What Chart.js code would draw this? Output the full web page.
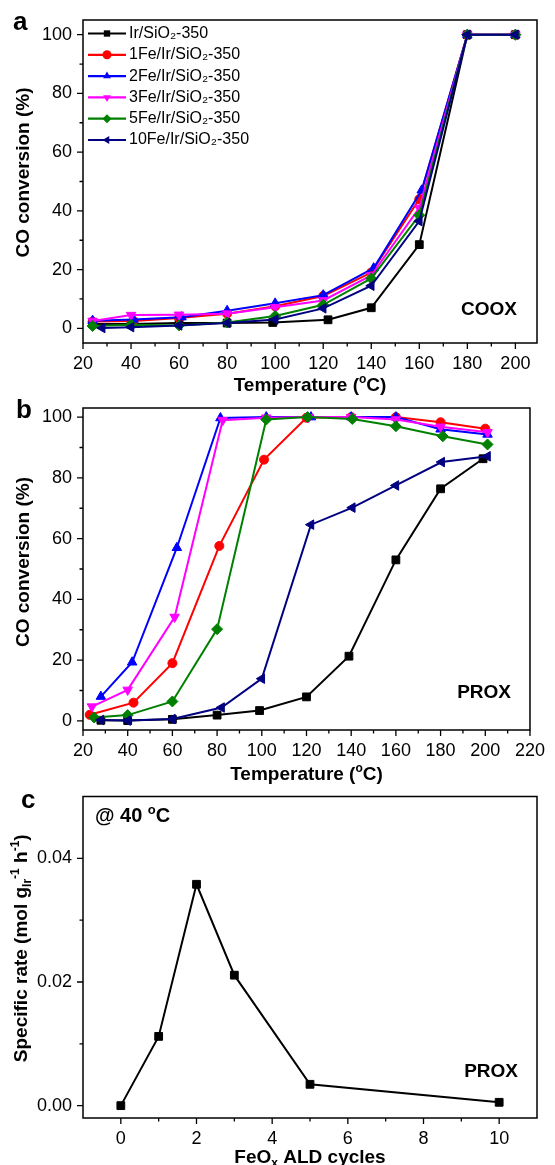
<!DOCTYPE html>
<html>
<head>
<meta charset="utf-8">
<script src="https://cdn.jsdelivr.net/npm/chart.js@4.4.1/dist/chart.umd.min.js"></script>
<style>
  body { margin: 0; background: #fff; }
  #wrap { position: relative; width: 555px; height: 1165px; overflow: hidden; }
  #wrap canvas { position: absolute; left: 0; }
</style>
</head>
<body>
<div id="wrap">
  <canvas id="chartA" width="555" height="395" style="top:0px"></canvas>
  <canvas id="chartB" width="555" height="395" style="top:395px"></canvas>
  <canvas id="chartC" width="555" height="375" style="top:790px"></canvas>
</div>
<script>
// series
var seriesNames = ['Ir/SiO\u2082-350', '1Fe/Ir/SiO\u2082-350', '2Fe/Ir/SiO\u2082-350',
                   '3Fe/Ir/SiO\u2082-350', '5Fe/Ir/SiO\u2082-350', '10Fe/Ir/SiO\u2082-350'];
var seriesColors = ['#000000', '#ff0000', '#0000ff', '#ff00ff', '#008000', '#000080'];
var markerStyles = ['rect', 'circle', 'triangle', 'triangle', 'rectRot', 'triangle'];
var markerRot = [0, 0, 0, 180, 0, -90];

// panel a - COOX, temperature (C) and CO conversion (%)
var cooxTemps = [
  [24, 40, 60, 80, 99, 122, 140, 160, 180, 200],
  [24, 41, 60, 80, 100, 120, 140, 160, 180, 200],
  [24, 41, 61, 80, 100, 120, 141, 161, 180, 200],
  [24, 40, 60, 80, 100, 120, 140, 160, 180, 200],
  [24, 40, 60, 80, 100, 120, 140, 160, 180, 200],
  [28, 40, 60, 80, 100, 120, 140, 160, 180, 200]
];
var cooxConv = [
  [1.5, 1.5, 1.8, 1.8, 2.0, 2.9, 7.0, 28.5, 100, 100],
  [2.3, 2.5, 3.5, 5.0, 7.5, 11.0, 19.0, 44.0, 100, 100],
  [2.6, 3.0, 3.8, 6.0, 8.5, 11.3, 20.5, 47.0, 100, 100],
  [2.5, 4.5, 4.6, 5.0, 7.2, 9.5, 18.0, 41.0, 100, 100],
  [0.8, 1.2, 1.0, 2.0, 4.2, 8.0, 17.0, 38.5, 100, 100],
  [0.1, 0.4, 1.0, 1.8, 3.0, 6.8, 14.5, 36.5, 100, 100]
];

// panel b - PROX
var proxTemps = [
  [28, 40, 60, 80, 99, 120, 139, 160, 180, 199],
  [23, 42.6, 60, 81, 101, 120, 140, 160, 180, 200],
  [28, 42, 62, 81.5, 102, 122, 140, 160, 180, 201],
  [24, 40, 61, 82.5, 102, 121, 140, 160, 180, 201],
  [25, 40, 60, 80, 102, 120.5, 140.5, 160, 181, 201],
  [28, 40, 60, 82, 100, 122, 140.5, 160, 180.5, 201]
];
var proxConv = [
  [0.2, 0.1, 0.5, 1.9, 3.4, 7.9, 21.3, 53.0, 76.4, 86.3],
  [2.0, 6.0, 19.0, 57.6, 86.0, 99.8, 100, 100, 98.3, 96.2],
  [8.0, 19.3, 57.0, 99.7, 100, 100, 100, 100, 96.0, 94.3],
  [4.7, 10.2, 34.2, 99.0, 99.8, 100, 100, 99.2, 96.8, 95.0],
  [1.1, 1.9, 6.4, 30.2, 99.2, 100, 99.4, 97.0, 93.7, 91.0],
  [0.3, 0.1, 0.6, 4.4, 13.9, 64.6, 70.2, 77.5, 85.2, 87.1]
];

// panel c - specific rate at 40 C vs FeOx ALD cycles
var aldCycles = [0, 1, 2, 3, 5, 10];
var specRate = [0.0, 0.0112, 0.0358, 0.0211, 0.00345, 0.00054];

// tick labels
var tempTicksA = [20, 40, 60, 80, 100, 120, 140, 160, 180, 200];
var tempTicksB = [20, 40, 60, 80, 100, 120, 140, 160, 180, 200, 220];
var convTicks = [0, 20, 40, 60, 80, 100];
var cycleTicks = [0, 2, 4, 6, 8, 10];
var rateTicks = [0, 0.02, 0.04];

var FONT = "'Liberation Sans', Arial, Helvetica, sans-serif";
Chart.defaults.font.family = FONT;
Chart.defaults.color = '#000';

function drawRich(ctx, segs, x, y, size, opts) {
  opts = opts || {};
  var weight = opts.bold === false ? '' : 'bold ';
  function fontFor(kind) {
    var s = kind ? Math.round(size * 0.65) : size;
    return weight + s + 'px ' + FONT;
  }
  ctx.save();
  ctx.translate(x, y);
  if (opts.rotate) ctx.rotate(-Math.PI / 2);
  var total = 0;
  segs.forEach(function (s) { ctx.font = fontFor(s[1]); total += ctx.measureText(s[0]).width; });
  var cx = opts.align === 'left' ? 0 : opts.align === 'right' ? -total : -total / 2;
  ctx.fillStyle = '#000';
  ctx.textAlign = 'left';
  ctx.textBaseline = 'alphabetic';
  segs.forEach(function (s) {
    ctx.font = fontFor(s[1]);
    var dy = s[1] === 'sup' ? -size * 0.4 : s[1] === 'sub' ? size * 0.22 : 0;
    ctx.fillText(s[0], cx, dy);
    cx += ctx.measureText(s[0]).width;
  });
  ctx.restore();
}

function drawMarker(ctx, style, rot, r, x, y) {
  ctx.save();
  ctx.translate(x, y);
  ctx.rotate(rot * Math.PI / 180);
  ctx.beginPath();
  if (style === 'rect') {
    var s = r * Math.SQRT1_2;
    ctx.rect(-s, -s, 2 * s, 2 * s);
  } else if (style === 'circle') {
    ctx.arc(0, 0, r, 0, Math.PI * 2);
  } else if (style === 'rectRot') {
    ctx.moveTo(0, -r); ctx.lineTo(r, 0); ctx.lineTo(0, r); ctx.lineTo(-r, 0); ctx.closePath();
  } else {
    ctx.moveTo(0, -r); ctx.lineTo(r * 0.866, r * 0.5); ctx.lineTo(-r * 0.866, r * 0.5); ctx.closePath();
  }
  ctx.fill();
  ctx.restore();
}

// frame, ticks, titles and labels drawn on top of each panel
var decorPlugin = {
  id: 'decor',
  afterDraw: function (chart, args, o) {
    var ctx = chart.ctx, a = chart.chartArea;
    var xs = chart.scales.x, ys = chart.scales.y;
    ctx.save();
    ctx.strokeStyle = '#000';
    ctx.lineWidth = 1.5;
    ctx.strokeRect(a.left, a.top, a.right - a.left, a.bottom - a.top);
    ctx.lineWidth = 1.3;
    ctx.beginPath();
    function ticks(vals, scale, horiz) {
      vals.forEach(function (v, i) {
        var list = [[v, 6]];
        if (i < vals.length - 1) list.push([(v + vals[i + 1]) / 2, 3.5]);
        list.forEach(function (t) {
          var p = scale.getPixelForValue(t[0]);
          if (horiz) { ctx.moveTo(p, a.bottom); ctx.lineTo(p, a.bottom + t[1]); }
          else { ctx.moveTo(a.left, p); ctx.lineTo(a.left - t[1], p); }
        });
      });
    }
    ticks(o.xTicks, xs, true);
    ticks(o.yTicks, ys, false);
    ctx.stroke();
    ctx.restore();

    drawRich(ctx, o.xTitle, (a.left + a.right) / 2, o.xTitleY, 19);
    drawRich(ctx, o.yTitle, o.yTitleX, (a.top + a.bottom) / 2 + (o.yTitleDy || 0), 19, { rotate: true });
    (o.texts || []).forEach(function (t) {
      drawRich(ctx, t.segs, t.x, t.y, t.size, { align: t.align });
    });

    if (o.legend) {
      var lg = o.legend;
      chart.data.datasets.forEach(function (ds, i) {
        var yy = lg.y + i * lg.dy;
        ctx.save();
        ctx.strokeStyle = ds.borderColor;
        ctx.fillStyle = ds.borderColor;
        ctx.lineWidth = 2.2;
        ctx.beginPath();
        ctx.moveTo(lg.x, yy); ctx.lineTo(lg.x + 38, yy);
        ctx.stroke();
        drawMarker(ctx, markerStyles[i], markerRot[i], 4.5, lg.x + 19, yy);
        ctx.font = '16px ' + FONT;
        ctx.fillStyle = '#000';
        ctx.textBaseline = 'middle';
        ctx.fillText(ds.label, lg.x + 41, yy);
        ctx.restore();
      });
    }
  }
};

function makeSets(temps, vals) {
  return seriesNames.map(function (name, i) {
    return {
      label: name,
      data: temps[i].map(function (t, k) { return { x: t, y: vals[i][k] }; }),
      showLine: true,
      borderColor: seriesColors[i],
      backgroundColor: seriesColors[i],
      borderWidth: 2,
      pointStyle: markerStyles[i],
      rotation: markerRot[i],
      pointRadius: markerStyles[i] === 'circle' ? 4.5 : 5.5,
      pointBorderWidth: 1,
      pointBorderColor: seriesColors[i],
      order: 6 - i
    };
  });
}

function axis(min, max, tickVals, fmt, fitSize, isX) {
  return {
    type: 'linear',
    min: min, max: max,
    grid: { display: false, drawTicks: false },
    border: { display: false },
    ticks: {
      font: { size: 18 },
      color: '#000',
      padding: isX ? 10 : 11,
      maxRotation: 0,
      autoSkip: false,
      callback: fmt
    },
    afterBuildTicks: function (s) { s.ticks = tickVals.map(function (v) { return { value: v }; }); },
    afterFit: function (s) {
      if (isX) { s.height = fitSize; }
      else { s.width = fitSize; s.paddingTop = 0; s.paddingBottom = 0; }
    }
  };
}

function baseOptions(pad, xAxis, yAxis, decor) {
  return {
    responsive: false,
    animation: false,
    layout: { padding: { top: pad.top, right: 18, left: 0, bottom: 0 } },
    plugins: { legend: { display: false }, tooltip: { enabled: false }, decor: decor },
    scales: { x: xAxis, y: yAxis }
  };
}

var intFmt = function (v) { return String(v); };
var tempTitle = [['Temperature (', ''], ['o', 'sup'], ['C)', '']];
var convTitle = [['CO conversion (%)', '']];

// panel a
new Chart(document.getElementById('chartA'), {
  type: 'scatter',
  data: { datasets: makeSets(cooxTemps, cooxConv) },
  options: baseOptions({ top: 20 },
    axis(20, 209, tempTicksA, intFmt, 52, true),
    axis(-5, 105, convTicks, intFmt, 83, false),
    {
      xTicks: tempTicksA, yTicks: convTicks,
      xTitle: tempTitle, xTitleY: 391,
      yTitle: convTitle, yTitleX: 29, yTitleDy: -9,
      legend: { x: 88, y: 33.5, dy: 21.3 },
      texts: [
        { segs: [['a', '']], x: 13, y: 30, size: 26, align: 'left' },
        { segs: [['COOX', '']], x: 517, y: 315, size: 19, align: 'right' }
      ]
    }),
  plugins: [decorPlugin]
});

// panel b
new Chart(document.getElementById('chartB'), {
  type: 'scatter',
  data: { datasets: makeSets(proxTemps, proxConv) },
  options: baseOptions({ top: 13 },
    axis(20, 220, tempTicksB, intFmt, 60, true),
    axis(-3, 103, convTicks, intFmt, 83, false),
    {
      xTicks: tempTicksB, yTicks: convTicks,
      xTitle: tempTitle, xTitleY: 385,
      yTitle: convTitle, yTitleX: 29, yTitleDy: -7,
      texts: [
        { segs: [['b', '']], x: 16, y: 23, size: 26, align: 'left' },
        { segs: [['PROX', '']], x: 511, y: 303, size: 19, align: 'right' }
      ]
    }),
  plugins: [decorPlugin]
});

// panel c
new Chart(document.getElementById('chartC'), {
  type: 'scatter',
  data: {
    datasets: [{
      label: 'rate',
      data: aldCycles.map(function (c, k) { return { x: c, y: specRate[k] }; }),
      showLine: true,
      borderColor: '#000',
      backgroundColor: '#000',
      borderWidth: 2,
      pointStyle: 'rect',
      pointRadius: 5.5,
      pointBorderWidth: 1
    }]
  },
  options: baseOptions({ top: 4 },
    axis(-1, 11, cycleTicks, intFmt, 47, true),
    axis(-0.002, 0.05, rateTicks, function (v) { return v.toFixed(2); }, 83, false),
    {
      xTicks: cycleTicks, yTicks: rateTicks,
      xTitle: [['FeO', ''], ['x', 'sub'], [' ALD cycles', '']], xTitleY: 373,
      yTitle: [['Specific rate (mol g', ''], ['Ir', 'sub'], ['-1', 'sup'], [' h', ''], ['-1', 'sup'], [')', '']],
      yTitleX: 27, yTitleDy: -9,
      texts: [
        { segs: [['c', '']], x: 21, y: 18, size: 26, align: 'left' },
        { segs: [['@ 40 ', ''], ['o', 'sup'], ['C', '']], x: 95, y: 32, size: 20, align: 'left' },
        { segs: [['PROX', '']], x: 518, y: 287, size: 19, align: 'right' }
      ]
    }),
  plugins: [decorPlugin]
});
</script>
</body>
</html>
